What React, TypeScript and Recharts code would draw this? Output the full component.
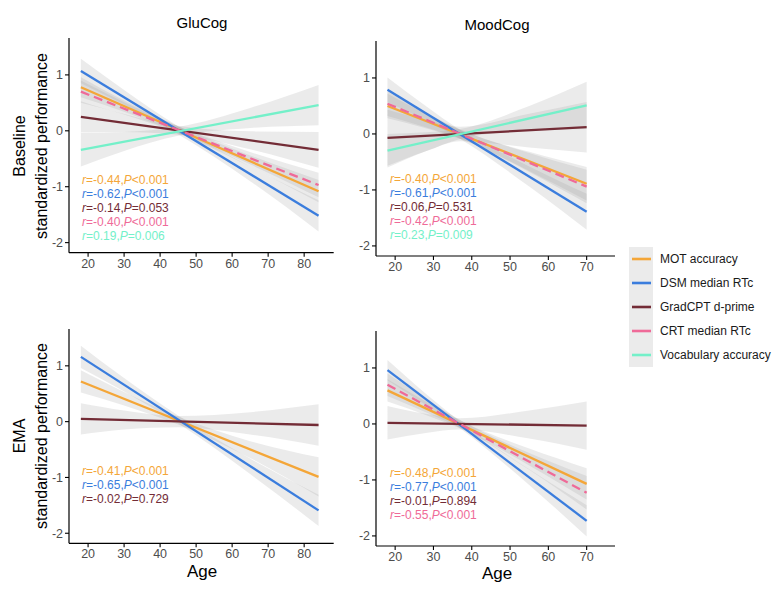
import React from 'react';
import { ComposedChart, Line, Area, XAxis, YAxis } from 'recharts';

const FONT = '"Liberation Sans", Arial, Helvetica, sans-serif';

const seriesNames = ['MOT accuracy', 'DSM median RTc', 'GradCPT d-prime', 'CRT median RTc', 'Vocabulary accuracy'];
const seriesColors = ['#F4A638', '#3B7DDD', '#732C36', '#EF6A98', '#74F0C9'];
const seriesDash = ['', '', '', '9 5', ''];

const yTicks = [-2, -1, 0, 1];
const gluTicks = [20, 30, 40, 50, 60, 70, 80];
const moodTicks = [20, 30, 40, 50, 60, 70];

// ---------- Baseline / GluCog ----------
const baseGluSeries = [0, 1, 2, 3, 4];
const baseGluAges = [18, 30, 45, 65, 84];
const baseGluStart = [0.78, 1.07, 0.25, 0.70, -0.34];
const baseGluEnd = [-1.08, -1.52, -0.34, -0.97, 0.46];
const baseGluLo = [
  [0.60, 0.34, -0.04, -0.64, -1.28],
  [0.85, 0.47, -0.06, -0.90, -1.80],
  [-0.03, -0.02, -0.07, -0.33, -0.66],
  [0.50, 0.29, -0.04, -0.60, -1.19],
  [-0.64, -0.36, -0.09, 0.05, 0.10],
];
const baseGluHi = [
  [0.96, 0.54, 0.08, -0.44, -0.88],
  [1.29, 0.73, 0.08, -0.64, -1.24],
  [0.53, 0.30, 0.09, -0.01, -0.02],
  [0.90, 0.51, 0.08, -0.38, -0.75],
  [-0.04, -0.02, 0.07, 0.41, 0.82],
];
const baseGluStats = [['-0.44', '<0.001'], ['-0.62', '<0.001'], ['-0.14', '=0.053'], ['-0.40', '<0.001'], ['0.19', '=0.006']];

// ---------- Baseline / MoodCog ----------
const baseMoodSeries = [0, 1, 2, 3, 4];
const baseMoodAges = [18, 28, 37, 55, 70];
const baseMoodStart = [0.50, 0.79, -0.07, 0.54, -0.30];
const baseMoodEnd = [-0.89, -1.39, 0.12, -0.94, 0.51];
const baseMoodLo = [
  [0.28, 0.10, -0.09, -0.66, -1.19],
  [0.57, 0.24, -0.09, -0.94, -1.71],
  [-0.57, -0.31, -0.13, -0.24, -0.33],
  [0.32, 0.12, -0.08, -0.68, -1.24],
  [-0.60, -0.31, -0.09, 0.06, 0.09],
];
const baseMoodHi = [
  [0.72, 0.36, 0.07, -0.32, -0.59],
  [1.01, 0.50, 0.07, -0.58, -1.07],
  [0.43, 0.25, 0.13, 0.36, 0.57],
  [0.76, 0.38, 0.08, -0.34, -0.64],
  [0.00, 0.03, 0.09, 0.50, 0.93],
];
const baseMoodStats = [['-0.40', '<0.001'], ['-0.61', '<0.001'], ['0.06', '=0.531'], ['-0.42', '<0.001'], ['0.23', '=0.009']];

// ---------- EMA / GluCog ----------
const emaGluSeries = [0, 1, 2];
const emaGluAges = [18, 30, 45, 65, 84];
const emaGluStart = [0.72, 1.16, 0.05];
const emaGluEnd = [-0.99, -1.59, -0.06];
const emaGluLo = [
  [0.52, 0.29, -0.05, -0.65, -1.34],
  [0.96, 0.54, -0.03, -0.94, -1.87],
  [-0.23, -0.14, -0.10, -0.23, -0.43],
];
const emaGluHi = [
  [0.92, 0.53, 0.09, -0.35, -0.64],
  [1.36, 0.78, 0.11, -0.66, -1.31],
  [0.33, 0.20, 0.10, 0.17, 0.31],
];
const emaGluStats = [['-0.41', '<0.001'], ['-0.65', '<0.001'], ['-0.02', '=0.729']];

// ---------- EMA / MoodCog ----------
const emaMoodSeries = [0, 1, 2, 3];
const emaMoodAges = [18, 28, 37, 55, 70];
const emaMoodStart = [0.60, 0.96, 0.02, 0.70];
const emaMoodEnd = [-1.07, -1.73, -0.03, -1.23];
const emaMoodLo = [
  [0.40, 0.16, -0.08, -0.74, -1.35],
  [0.78, 0.34, -0.08, -1.09, -2.01],
  [-0.28, -0.16, -0.10, -0.26, -0.46],
  [0.50, 0.21, -0.07, -0.82, -1.53],
];
const emaMoodHi = [
  [0.80, 0.40, 0.06, -0.44, -0.79],
  [1.14, 0.54, 0.04, -0.81, -1.45],
  [0.32, 0.18, 0.10, 0.24, 0.40],
  [0.90, 0.45, 0.07, -0.52, -0.93],
];
const emaMoodStats = [['-0.48', '<0.001'], ['-0.77', '<0.001'], ['-0.01', '=0.894'], ['-0.55', '<0.001']];

type PanelProps = {
  left: number; top: number; w: number; h: number;
  xDomain: [number, number]; xTicks: number[];
  series: number[]; ages: number[]; starts: number[]; ends: number[];
  lo: number[][]; hi: number[][];
};

const ML = 45, MT = 5, MR = 5, XH = 30;

function buildRows(p: PanelProps) {
  const last = p.ages.length - 1;
  return p.ages.map((age, j) => {
    const row: any = { age };
    p.series.forEach((s, k) => {
      row['b' + k] = [p.lo[k][j], p.hi[k][j]];
      row['l' + k] = j === 0 ? p.starts[k] : j === last ? p.ends[k] : null;
    });
    return row;
  });
}

function Panel(p: PanelProps) {
  const rows = buildRows(p);
  const tickStyle = { fill: '#4D4D4D', fontSize: 12.5, fontFamily: FONT };
  const items: any[] = [];
  p.series.forEach((s, k) => {
    items.push(
      <Area key={'b' + k} dataKey={'b' + k} type="monotone" stroke="none" fill="#999999" fillOpacity={0.2}
        isAnimationActive={false} activeDot={false} dot={false} />
    );
    items.push(
      <Line key={'l' + k} dataKey={'l' + k} type="linear" stroke={seriesColors[s]} strokeWidth={2.3}
        strokeDasharray={seriesDash[s] || undefined} connectNulls dot={false} activeDot={false}
        isAnimationActive={false} />
    );
  });
  return (
    <div style={{ position: 'absolute', left: p.left - ML, top: p.top - MT }}>
      <ComposedChart width={ML + p.w + MR} height={MT + p.h + XH} data={rows}
        margin={{ top: MT, right: MR, left: 0, bottom: 0 }}>
        <XAxis type="number" dataKey="age" domain={p.xDomain} ticks={p.xTicks} allowDataOverflow interval={0}
          height={XH} tickSize={4} tickMargin={2} tick={tickStyle}
          axisLine={{ stroke: '#000', strokeWidth: 1.2 }} tickLine={{ stroke: '#000', strokeWidth: 1.1 }} />
        <YAxis type="number" domain={[-2.18, 1.66]} ticks={yTicks} allowDataOverflow interval={0}
          width={ML} tickSize={4} tickMargin={2} tick={tickStyle}
          axisLine={{ stroke: '#000', strokeWidth: 1.2 }} tickLine={{ stroke: '#000', strokeWidth: 1.1 }} />
        {items}
      </ComposedChart>
    </div>
  );
}

function Stats({ left, top, series, stats }: { left: number; top: number; series: number[]; stats: string[][] }) {
  return (
    <div style={{ position: 'absolute', left, top, fontFamily: FONT, fontSize: 12, lineHeight: '13.9px', whiteSpace: 'nowrap' }}>
      {series.map((s, k) => (
        <div key={k} style={{ color: seriesColors[s] }}>
          <i>r</i>={stats[k][0]},<i>P</i>{stats[k][1]}
        </div>
      ))}
    </div>
  );
}

function YTitle({ cx, cy, first }: { cx: number; cy: number; first: string }) {
  return (
    <div style={{
      position: 'absolute', left: cx - 120, top: cy - 22, width: 240, height: 44,
      transform: 'rotate(-90deg)', transformOrigin: '50% 50%', textAlign: 'center',
      fontFamily: FONT, fontSize: 16, lineHeight: '22px', color: '#000',
    }}>
      <div>{first}</div>
      <div>standardized performance</div>
    </div>
  );
}

function Centered({ cx, cy, size, text }: { cx: number; cy: number; size: number; text: string }) {
  return (
    <div style={{
      position: 'absolute', left: cx - 100, top: cy - size * 0.6, width: 200, textAlign: 'center',
      fontFamily: FONT, fontSize: size, lineHeight: `${size * 1.2}px`, color: '#000',
    }}>{text}</div>
  );
}

function Legend() {
  const rowY = [259, 283, 307, 331, 355];
  return (
    <svg style={{ position: 'absolute', left: 620, top: 240 }} width={158} height={135}>
      <rect x={9} y={7} width={24} height={120} fill="#EBEBEB" />
      {seriesNames.map((n, i) => (
        <g key={n}>
          <line x1={12} x2={31} y1={rowY[i] - 240} y2={rowY[i] - 240} stroke={seriesColors[i]} strokeWidth={2.6} />
          <text x={40} y={rowY[i] - 240 + 4.3} fontSize={12} fontFamily={FONT} fill="#1A1A1A">{n}</text>
        </g>
      ))}
    </svg>
  );
}

export default function App() {
  return (
    <div style={{ position: 'absolute', left: 0, top: 0, width: 778, height: 598, background: '#fff', overflow: 'hidden' }}>
      <Panel left={69.3} top={38} w={264.7} h={214.7} xDomain={[14.7, 88.2]} xTicks={gluTicks}
        series={baseGluSeries} ages={baseGluAges} starts={baseGluStart} ends={baseGluEnd} lo={baseGluLo} hi={baseGluHi} />
      <Panel left={376} top={41} w={239} h={215} xDomain={[15, 77.4]} xTicks={moodTicks}
        series={baseMoodSeries} ages={baseMoodAges} starts={baseMoodStart} ends={baseMoodEnd} lo={baseMoodLo} hi={baseMoodHi} />
      <Panel left={69.3} top={329} w={264.7} h={214.3} xDomain={[14.7, 88.2]} xTicks={gluTicks}
        series={emaGluSeries} ages={emaGluAges} starts={emaGluStart} ends={emaGluEnd} lo={emaGluLo} hi={emaGluHi} />
      <Panel left={376} top={331} w={239} h={215} xDomain={[15, 77.4]} xTicks={moodTicks}
        series={emaMoodSeries} ages={emaMoodAges} starts={emaMoodStart} ends={emaMoodEnd} lo={emaMoodLo} hi={emaMoodHi} />

      <Stats left={82} top={174} series={baseGluSeries} stats={baseGluStats} />
      <Stats left={390} top={173} series={baseMoodSeries} stats={baseMoodStats} />
      <Stats left={82} top={465} series={emaGluSeries} stats={emaGluStats} />
      <Stats left={390} top={467} series={emaMoodSeries} stats={emaMoodStats} />

      <Centered cx={202} cy={23} size={15} text="GluCog" />
      <Centered cx={497} cy={25} size={15} text="MoodCog" />
      <Centered cx={202} cy={572} size={17} text="Age" />
      <Centered cx={497} cy={574} size={17} text="Age" />

      <YTitle cx={31} cy={146} first="Baseline" />
      <YTitle cx={31} cy={436} first="EMA" />

      <Legend />
    </div>
  );
}
